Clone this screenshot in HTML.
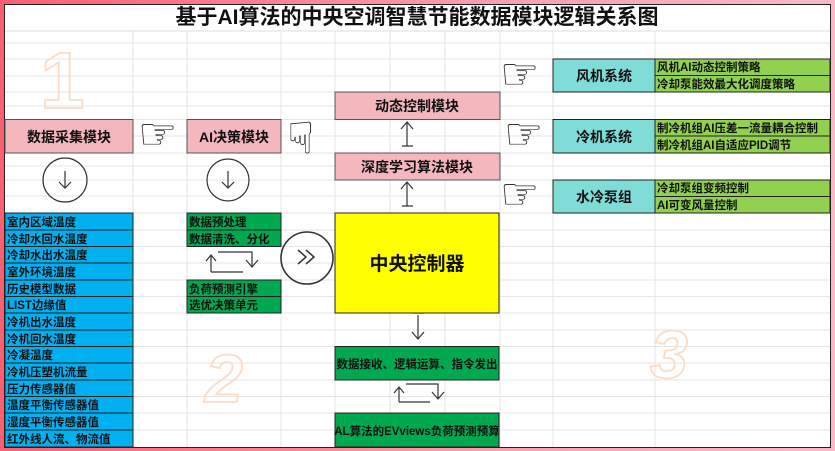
<!DOCTYPE html>
<html><head><meta charset="utf-8"><style>
html,body{margin:0;padding:0;width:835px;height:451px;overflow:hidden;background:linear-gradient(90deg,#fb5f72,#f8a0b0 60%,#f9b9c9);}
svg{position:absolute;left:0;top:0}
text{font-family:"Liberation Sans","Noto Sans CJK SC",sans-serif;fill:#111}
text.wm{fill:none;stroke:#fbdcc6;stroke-width:1.8px}
text.hand{font-family:"DejaVu Sans",sans-serif;fill:#333}
</style></head><body>
<svg width="835" height="451" viewBox="0 0 835 451" xmlns="http://www.w3.org/2000/svg">
<rect x="4.5" y="4.5" width="826" height="443" fill="#fff" stroke="#222" stroke-width="1"/>
<g stroke="#e6e6e6" stroke-width="1">
<line x1="5" y1="31" x2="830" y2="31" stroke="#ddd"/>
<line x1="5" y1="43" x2="830" y2="43"/><line x1="5" y1="59" x2="830" y2="59"/><line x1="5" y1="76" x2="830" y2="76"/><line x1="5" y1="92" x2="830" y2="92"/><line x1="5" y1="106" x2="830" y2="106"/><line x1="5" y1="119.5" x2="830" y2="119.5"/><line x1="5" y1="136" x2="830" y2="136"/><line x1="5" y1="153" x2="830" y2="153"/><line x1="5" y1="166" x2="830" y2="166"/><line x1="5" y1="180" x2="830" y2="180"/><line x1="5" y1="196" x2="830" y2="196"/><line x1="5" y1="213" x2="830" y2="213"/><line x1="5" y1="230" x2="830" y2="230"/><line x1="5" y1="246.5" x2="830" y2="246.5"/><line x1="5" y1="263" x2="830" y2="263"/><line x1="5" y1="280" x2="830" y2="280"/><line x1="5" y1="296.5" x2="830" y2="296.5"/><line x1="5" y1="313" x2="830" y2="313"/><line x1="5" y1="330" x2="830" y2="330"/><line x1="5" y1="346.5" x2="830" y2="346.5"/><line x1="5" y1="363" x2="830" y2="363"/><line x1="5" y1="380" x2="830" y2="380"/><line x1="5" y1="396.5" x2="830" y2="396.5"/><line x1="5" y1="413" x2="830" y2="413"/><line x1="5" y1="430" x2="830" y2="430"/>
<line x1="133" y1="31" x2="133" y2="447"/><line x1="187" y1="31" x2="187" y2="447"/><line x1="281" y1="31" x2="281" y2="447"/><line x1="335" y1="31" x2="335" y2="447"/><line x1="390" y1="31" x2="390" y2="447"/><line x1="445" y1="31" x2="445" y2="447"/><line x1="500" y1="31" x2="500" y2="447"/><line x1="553" y1="31" x2="553" y2="447"/><line x1="655" y1="31" x2="655" y2="447"/>
</g>
<text x="417" y="24" font-size="21" font-weight="bold" text-anchor="middle">基于AI算法的中央空调智慧节能数据模块逻辑关系图</text>
<!-- watermark numerals -->
<text class="wm" x="40" y="108" font-size="80" font-weight="bold">1</text>
<text class="wm" x="205" y="402" font-size="68" font-weight="bold" font-style="italic">2</text>
<text class="wm" x="650" y="378" font-size="68" font-weight="bold" font-style="italic">3</text>
<!-- pink modules -->
<g fill="#f4b7bd" stroke="#555" stroke-width="1">
<rect x="5" y="119.5" width="128" height="33.5"/>
<rect x="187" y="119.5" width="94" height="33.5"/>
<rect x="335" y="92" width="165" height="27.5"/>
<rect x="335" y="153" width="165" height="27"/>
</g>
<text x="69" y="142" font-size="14" font-weight="bold" text-anchor="middle">数据采集模块</text>
<text x="234" y="142" font-size="14" font-weight="bold" text-anchor="middle">AI决策模块</text>
<text x="417" y="111" font-size="14" font-weight="bold" text-anchor="middle">动态控制模块</text>
<text x="417" y="172" font-size="14" font-weight="bold" text-anchor="middle">深度学习算法模块</text>
<g stroke="#333" stroke-width="1.2" fill="none">
<path d="M407 146V123M401 129L407 122L413 129M402 146H413"/>
<path d="M407 206V183M401 189L407 182L413 189M402 206H413"/>
<path d="M418 315V338M412 332L418 339L424 332M412 313H424"/>
<circle cx="65" cy="180" r="22"/><path d="M65 171V188M59 182L65 188L71 182"/>
<circle cx="228" cy="180" r="21"/><path d="M228 171V188M222 182L228 188L234 182"/>
<circle cx="307" cy="258" r="26" stroke-width="1.6"/><path d="M298 250L306 257L298 264M306 250L314 257L306 264" stroke-width="1.5"/>
<path d="M211 272V256M206 261L211 255L216 261M218 252H252V266M246 260L252 267L258 260M211 272H243" />
<path d="M399 402V388M394 393L399 387L404 393M406 384H438V398M432 392L438 399L444 392M399 402H430"/>
</g>
<g fill="#00b0f0" stroke="#222" stroke-width="1">
<rect x="5" y="213" width="128" height="17"/><rect x="5" y="230" width="128" height="16.5"/><rect x="5" y="246.5" width="128" height="16.5"/><rect x="5" y="263" width="128" height="17"/><rect x="5" y="280" width="128" height="16.5"/><rect x="5" y="296.5" width="128" height="16.5"/><rect x="5" y="313" width="128" height="17"/><rect x="5" y="330" width="128" height="16.5"/><rect x="5" y="346.5" width="128" height="16.5"/><rect x="5" y="363" width="128" height="17"/><rect x="5" y="380" width="128" height="16.5"/><rect x="5" y="396.5" width="128" height="16.5"/><rect x="5" y="413" width="128" height="17"/><rect x="5" y="430" width="128" height="17"/>
</g>
<g font-size="11.5" font-weight="bold">
<text x="7" y="226">室内区域温度</text><text x="7" y="243">冷却水回水温度</text><text x="7" y="259">冷却水出水温度</text><text x="7" y="276">室外环境温度</text><text x="7" y="293">历史模型数据</text><text x="7" y="309">LIST边缘值</text><text x="7" y="326">冷机出水温度</text><text x="7" y="343">冷机回水温度</text><text x="7" y="359">冷凝温度</text><text x="7" y="376">冷机压塑机流量</text><text x="7" y="393">压力传感器值</text><text x="7" y="409">温度平衡传感器值</text><text x="7" y="426">湿度平衡传感器值</text><text x="7" y="443">红外线人流、物流值</text>
</g>
<g fill="#00a84f" stroke="#222" stroke-width="1">
<rect x="187" y="213" width="94" height="17"/><rect x="187" y="230" width="94" height="16.5"/>
<rect x="187" y="280" width="94" height="16.5"/><rect x="187" y="296.5" width="94" height="16.5"/>
<rect x="335" y="346.5" width="164" height="33.5"/><rect x="335" y="413" width="164" height="34"/>
</g>
<g font-size="11.5" font-weight="bold">
<text x="189" y="226">数据预处理</text><text x="189" y="243">数据清洗、分化</text>
<text x="189" y="293">负荷预测引擎</text><text x="189" y="309">选优决策单元</text>
<text x="417" y="368" text-anchor="middle">数据接收、逻辑运算、指令发出</text>
<text x="417" y="435" text-anchor="middle">AL算法的EVviews负荷预测预算</text>
</g>
<rect x="335" y="213" width="164" height="100" fill="#ffff00" stroke="#222"/>
<text x="417" y="270" font-size="19" font-weight="bold" text-anchor="middle">中央控制器</text>
<g fill="#7fdcd6" stroke="#222"><rect x="553" y="59" width="102" height="33"/><rect x="553" y="119.5" width="102" height="33.5"/><rect x="553" y="180" width="102" height="33"/></g>
<g fill="#92d050" stroke="#222"><rect x="655" y="59" width="175" height="16.5"/><rect x="655" y="75.5" width="175" height="16.5"/><rect x="655" y="119.5" width="175" height="16.5"/><rect x="655" y="136" width="175" height="17"/><rect x="655" y="180" width="175" height="16.5"/><rect x="655" y="196.5" width="175" height="16.5"/></g>
<g font-size="14" font-weight="bold" text-anchor="middle"><text x="604" y="81">风机系统</text><text x="604" y="142">冷机系统</text><text x="604" y="202">水冷泵组</text></g>
<g font-size="11.5" font-weight="bold"><text x="657" y="71">风机AI动态控制策略</text><text x="657" y="88">冷却泵能效最大化调度策略</text><text x="657" y="132">制冷机组AI压差一流量耦合控制</text><text x="657" y="149">制冷机组AI自适应PID调节</text><text x="657" y="192">冷却泵组变频控制</text><text x="657" y="209">AI可变风量控制</text></g>
<text class="hand" x="138" y="149" font-size="44">☞</text>
<text class="hand" x="500" y="89" font-size="44">☞</text>
<text class="hand" x="504" y="149" font-size="44">☞</text>
<text class="hand" x="500" y="209" font-size="44">☞</text>
<text class="hand" font-size="44" transform="translate(286,118) rotate(90)">☞</text>
</svg>
</body></html>
